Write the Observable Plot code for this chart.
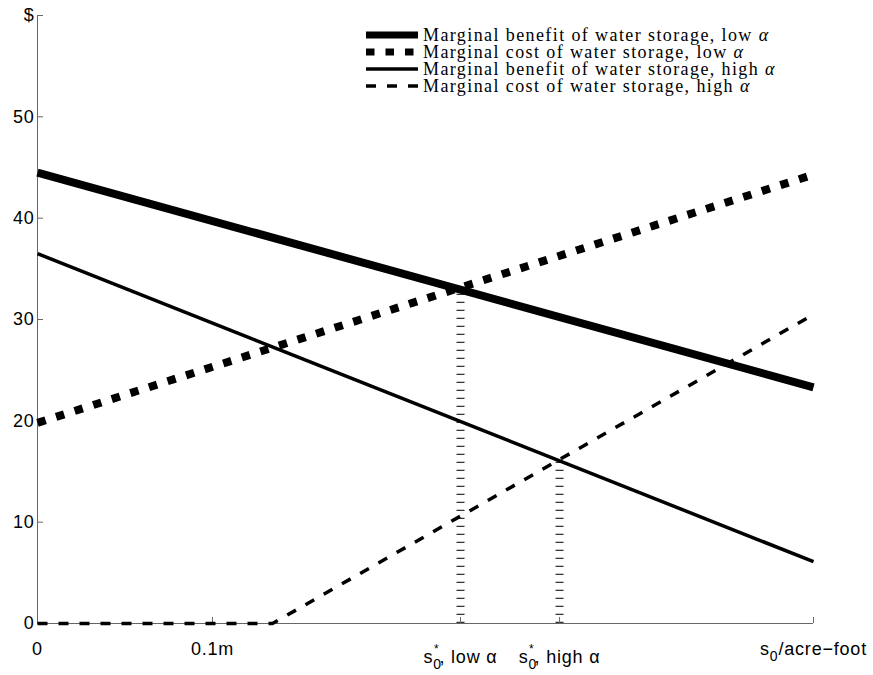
<!DOCTYPE html>
<html><head><meta charset="utf-8">
<script src="https://cdn.jsdelivr.net/npm/d3@7"></script>
<script src="https://cdn.jsdelivr.net/npm/@observablehq/plot@0.6"></script>
<style>body{margin:0;background:#fff} #chart{width:873px;height:675px}</style>
</head><body><div id="chart"></div>
<script>
// ---- data ----
const xMax = 0.4434;
const xTickValues = [0, 0.1, 0.2417, 0.2983, 0.4434];
const xTickLabels = ["0", "0.1m", "s0*, low α", "s0*, high α", "s0/acre−foot"];
const yTickValues = [0, 10, 20, 30, 40, 50, 60];
const yTickLabels = ["0", "10", "20", "30", "40", "50", "$"];

const legendLabels = [
  "Marginal benefit of water storage, low ",
  "Marginal cost of water storage, low ",
  "Marginal benefit of water storage, high ",
  "Marginal cost of water storage, high "
];

const benefitLowX = [0, 0.4434];
const benefitLowY = [44.5, 23.3];
const costLowX = [0, 0.4434];
const costLowY = [19.8, 44.3];
const benefitHighX = [0, 0.4434];
const benefitHighY = [36.5, 6.1];
const costHighX = [0, 0.1343, 0.4434];
const costHighY = [0, 0, 30.5];
const optimumX = [0.2417, 0.2983];
const optimumY = [33.1, 16.1];

// ---- build ----
const toPts = (xs, ys) => xs.map((x, i) => ({x, y: ys[i]}));
const benefitLow = toPts(benefitLowX, benefitLowY);
const costLow = toPts(costLowX, costLowY);
const benefitHigh = toPts(benefitHighX, benefitHighY);
const costHigh = toPts(costHighX, costHighY);
const optimum = toPts(optimumX, optimumY);

const styles = [
  {strokeWidth: 8, dash: null},
  {strokeWidth: 8, dash: "8.5,11"},
  {strokeWidth: 3.5, dash: null},
  {strokeWidth: 3.5, dash: "10,11"}
];

const plot = Plot.plot({
  width: 873, height: 675,
  marginLeft: 37, marginRight: 60, marginTop: 15, marginBottom: 52,
  x: {domain: [0, xMax]},
  y: {domain: [0, 60]},
  style: {fontFamily: "'Liberation Sans', Arial, sans-serif", fontSize: "18px", color: "#000", background: "#fff", overflow: "visible", letterSpacing: "0.8px"},
  marks: [
    Plot.ruleX(optimum, {x: "x", y1: 0, y2: "y", stroke: "#333", strokeWidth: 8, strokeDasharray: "1.2,6.8"}),
    Plot.ruleX([0], {stroke: "#666"}),
    Plot.ruleY([0], {stroke: "#666"}),
    Plot.axisY({ticks: yTickValues, tickFormat: d => yTickLabels[yTickValues.indexOf(d)], tickSize: -6, tickPadding: 9, stroke: "#666", fill: "#000", label: null}),
    Plot.axisX({ticks: xTickValues, tickFormat: d => xTickLabels[xTickValues.indexOf(d)], tickSize: -6, tickPadding: 25, stroke: "#666", fill: "#000", label: null}),
    Plot.line(costHigh, {x: "x", y: "y", stroke: "#000", strokeWidth: styles[3].strokeWidth, strokeDasharray: styles[3].dash, strokeLinecap: "butt"}),
    Plot.line(benefitHigh, {x: "x", y: "y", stroke: "#000", strokeWidth: styles[2].strokeWidth, strokeLinecap: "butt"}),
    Plot.line(costLow, {x: "x", y: "y", stroke: "#000", strokeWidth: styles[1].strokeWidth, strokeDasharray: styles[1].dash, strokeLinecap: "butt"}),
    Plot.line(benefitLow, {x: "x", y: "y", stroke: "#000", strokeWidth: styles[0].strokeWidth, strokeLinecap: "butt"})
  ]
});
document.getElementById("chart").appendChild(plot);

const svg = d3.select(plot);

// subscript / superscript tick labels
svg.selectAll("g[aria-label='x-axis tick label'] text").each(function(d, i) {
  const t = d3.select(this);
  const label = t.text();
  if (!label.startsWith("s0")) return;
  t.text(null);
  t.append("tspan").text("s");
  if (label.startsWith("s0*")) {
    t.attr("transform", (t.attr("transform") || "") + " translate(0,8)");
    t.append("tspan").attr("font-size", 14).attr("dy", 6).text("0");
    t.append("tspan").attr("font-size", 12).attr("dx", -8).attr("dy", -16).text("*");
    t.append("tspan").attr("dy", 10).text(label.slice(3));
  } else {
    t.append("tspan").attr("font-size", 14).attr("dy", 6).text("0");
    t.append("tspan").attr("dy", -6).text(label.slice(2));
  }
});

// legend
const lg = svg.append("g")
  .attr("font-family", "'Liberation Serif', 'Times New Roman', serif")
  .attr("font-size", 18)
  .attr("letter-spacing", "1.4px")
  .attr("text-anchor", "start");
legendLabels.forEach((lab, i) => {
  const cy = 35 + i * 17;
  lg.append("line").attr("x1", 366).attr("x2", 418).attr("y1", cy).attr("y2", cy)
    .attr("stroke", "#000").attr("stroke-width", i < 2 ? 7 : 3.5)
    .attr("stroke-dasharray", styles[i].dash);
  const tx = lg.append("text").attr("x", 423).attr("y", cy + 5.5).attr("text-anchor", "start");
  tx.append("tspan").text(lab);
  tx.append("tspan").attr("font-style", "italic").text("α");
});
</script>
</body></html>
